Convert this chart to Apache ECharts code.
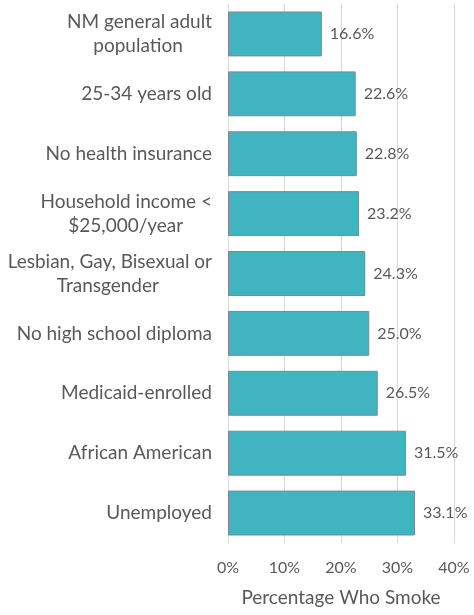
<!DOCTYPE html>
<html><head><meta charset="utf-8">
<script src="https://cdn.jsdelivr.net/npm/echarts@6/dist/echarts.min.js"></script>
<style>html,body{margin:0;padding:0;background:#fff}#c{width:474px;height:615px}</style>
</head><body><div id="c"></div>
<script>
const categories = ["NM general adult\npopulation","25-34 years old","No health insurance","Household income <\n$25,000/year","Lesbian, Gay, Bisexual or\nTransgender","No high school diploma","Medicaid-enrolled","African American","Unemployed"];
const values = [16.6,22.6,22.8,23.2,24.3,25.0,26.5,31.5,33.1];
const axisTitle = "Percentage Who Smoke";
const font = "Lato, 'Open Sans', sans-serif";
const ctx = document.createElement('canvas').getContext('2d');
ctx.font = "19px " + font;
const nb = '\u00a0';
const nbW = ctx.measureText(nb).width || 4.5;
const labelText = {};
categories.forEach(c => {
  const lines = c.split('\n');
  if (lines.length === 1) { labelText[c] = c; return; }
  const ws = lines.map(s => ctx.measureText(s).width);
  const m = Math.max(...ws);
  labelText[c] = lines.map((s, j) => {
    const n = Math.max(0, Math.round((m - ws[j]) / 2 / nbW));
    return nb.repeat(n) + s + nb.repeat(n);
  }).join('\n');
});
const chart = echarts.init(document.getElementById('c'), null, {renderer:'canvas'});
chart.setOption({
  animation:false,
  grid:{left:228,right:20,top:4,height:539,containLabel:false},
  xAxis:{type:'value',min:0,max:40,interval:10,
    axisLabel:{formatter:'{value}%',color:'#595959',fontSize:16,fontFamily:font,margin:17},
    axisLine:{show:false},axisTick:{show:false},
    splitLine:{lineStyle:{color:'#D9D9D9',width:1}},
    name:axisTitle,nameLocation:'middle',nameGap:45,
    nameTextStyle:{color:'#595959',fontSize:19,fontFamily:font}},
  yAxis:{type:'category',data:categories,inverse:true,
    axisLine:{show:false},axisTick:{show:false},
    axisLabel:{color:'#595959',fontSize:19,fontFamily:font,margin:16,lineHeight:24,align:'right',
      formatter:v=>labelText[v] || v}},
  series:[{type:'bar',data:values,barWidth:'75%',
    itemStyle:{color:'#41B4C1',borderColor:'#7A8A8C',borderWidth:1},
    label:{show:true,position:'right',distance:8,formatter:p=>p.value.toFixed(1)+'%',color:'#595959',fontSize:16,fontFamily:font}}]
});
</script></body></html>
